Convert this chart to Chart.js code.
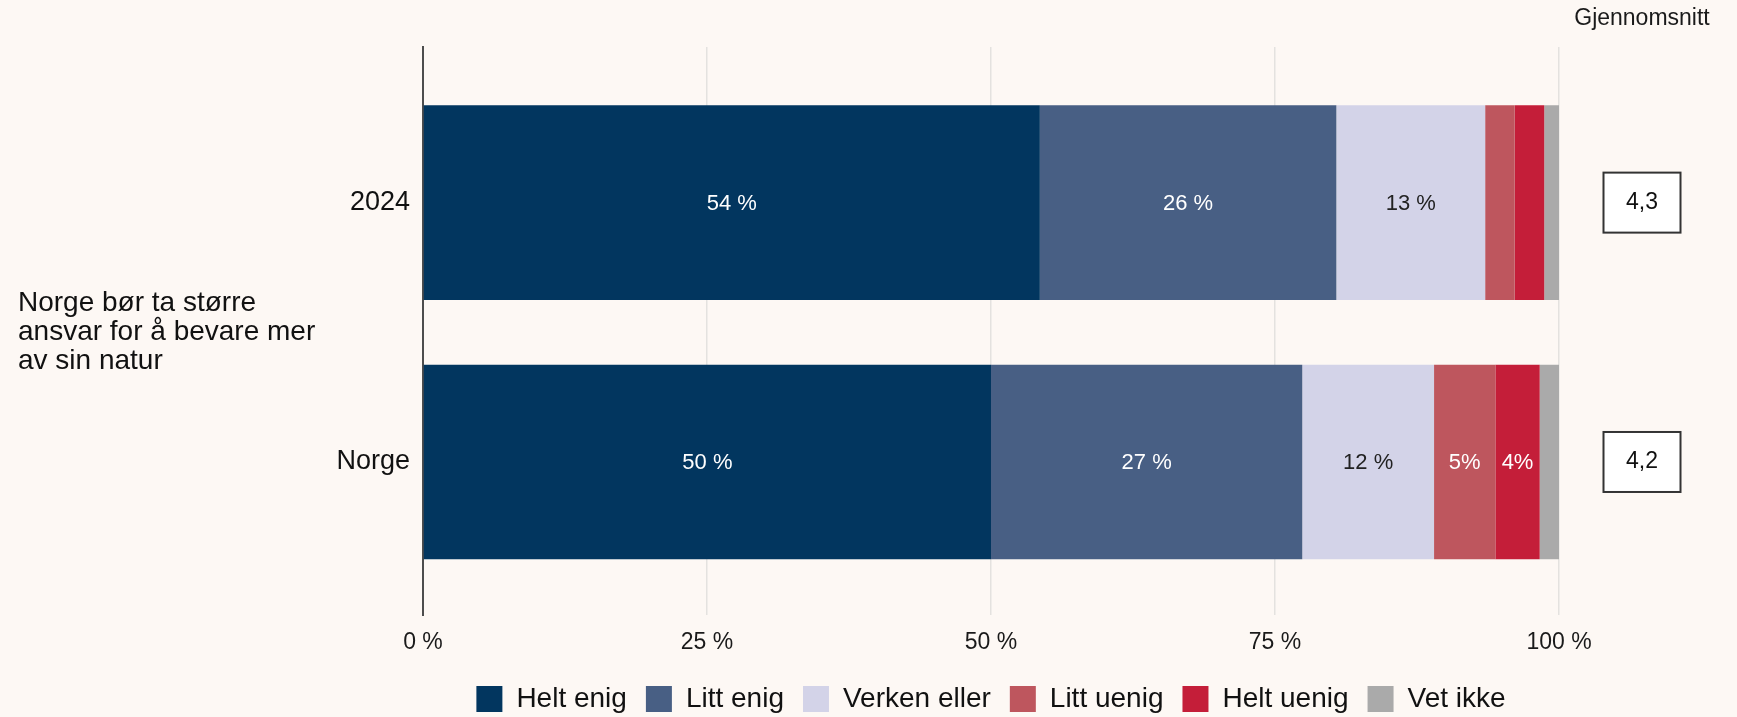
<!DOCTYPE html>
<html>
<head>
<meta charset="utf-8">
<script src="https://cdn.jsdelivr.net/npm/chart.js@4.4.1/dist/chart.umd.min.js"></script>
<style>
  html, body { margin: 0; padding: 0; background: #fdf8f4; }
  #wrap { width: 1737px; height: 717px; position: relative; }
</style>
</head>
<body>
<div id="wrap"><canvas id="c" width="1737" height="717"></canvas></div>
<script>
// ---- Data ----
const categories = ["2024", "Norge"];
const seriesNames = ["Helt enig", "Litt enig", "Verken eller", "Litt uenig", "Helt uenig", "Vet ikke"];
const heltEnig    = [54.3, 50.0];
const littEnig    = [26.1, 27.4];
const verkenEller = [13.1, 11.6];
const littUenig   = [2.6, 5.4];
const heltUenig   = [2.6, 3.9];
const vetIkke     = [1.3, 1.7];
const heltEnigLabels    = ["54 %", "50 %"];
const littEnigLabels    = ["26 %", "27 %"];
const verkenEllerLabels = ["13 %", "12 %"];
const littUenigLabels   = ["", "5%"];
const heltUenigLabels   = ["", "4%"];
const vetIkkeLabels     = ["", ""];
const averages = ["4,3", "4,2"];
const averageTitle = "Gjennomsnitt";
const questionLines = ["Norge bør ta større", "ansvar for å bevare mer", "av sin natur"];
const xTickValues = [0, 25, 50, 75, 100];

// ---- Styles ----
const FONT = '"Liberation Sans", Arial, Helvetica, sans-serif';
const colors = ["#02365f", "#485f84", "#d3d3e8", "#be565e", "#c41e39", "#aaaaaa"];
const labelColors = ["#ffffff", "#ffffff", "#222222", "#ffffff", "#ffffff", "#222222"];
const seriesValues = [heltEnig, littEnig, verkenEller, littUenig, heltUenig, vetIkke];
const seriesLabels = [heltEnigLabels, littEnigLabels, verkenEllerLabels, littUenigLabels, heltUenigLabels, vetIkkeLabels];

const datasets = seriesNames.map((name, s) => ({
  label: name,
  data: seriesValues[s].map((v, i) => ({ x: v, y: i })),
  backgroundColor: colors[s],
  borderWidth: 0,
  barPercentage: 0.75,
  categoryPercentage: 1.0,
  valueLabels: seriesLabels[s],
  valueLabelColor: labelColors[s]
}));

const extras = {
  id: 'extras',
  beforeDraw(chart) {
    const ctx = chart.ctx;
    ctx.save();
    ctx.fillStyle = '#fdf8f4';
    ctx.fillRect(0, 0, chart.width, chart.height);
    ctx.restore();
  },
  afterDatasetsDraw(chart) {
    const ctx = chart.ctx;
    ctx.save();
    ctx.font = '22px ' + FONT;
    ctx.textAlign = 'center';
    ctx.textBaseline = 'middle';
    chart.data.datasets.forEach((ds, di) => {
      const meta = chart.getDatasetMeta(di);
      meta.data.forEach((el, i) => {
        const txt = ds.valueLabels[i];
        if (!txt) return;
        ctx.fillStyle = ds.valueLabelColor;
        ctx.fillText(txt, (el.x + el.base) / 2, el.y + 1);
      });
    });
    ctx.restore();
  },
  afterDraw(chart) {
    const ctx = chart.ctx;
    const area = chart.chartArea;
    const yScale = chart.scales.y;
    ctx.save();
    // question text
    ctx.font = '28px ' + FONT;
    ctx.fillStyle = '#111111';
    ctx.textAlign = 'left';
    ctx.textBaseline = 'middle';
    const mid = (area.top + area.bottom) / 2 + 1.5;
    const pitch = 29;
    questionLines.forEach((line, k) => {
      ctx.fillText(line, 18, mid + (k - (questionLines.length - 1) / 2) * pitch);
    });
    // average column
    const cx = area.right + 83;
    ctx.font = '23px ' + FONT;
    ctx.textAlign = 'center';
    ctx.fillStyle = '#1a1a1a';
    ctx.fillText(averageTitle, cx, area.top - 28);
    averages.forEach((a, i) => {
      const cy = yScale.getPixelForValue(i);
      ctx.fillStyle = '#ffffff';
      ctx.fillRect(cx - 38.5, cy - 30, 77, 60);
      ctx.strokeStyle = '#333333';
      ctx.lineWidth = 2;
      ctx.strokeRect(cx - 38.5, cy - 30, 77, 60);
      ctx.fillStyle = '#111111';
      ctx.font = '23px ' + FONT;
      ctx.fillText(a, cx, cy);
    });
    ctx.restore();
  }
};

new Chart(document.getElementById('c'), {
  type: 'bar',
  data: { datasets },
  options: {
    responsive: false,
    animation: false,
    indexAxis: 'y',
    layout: { padding: { top: 47, right: 178, bottom: -6, left: 0 } },
    plugins: {
      legend: {
        position: 'bottom',
        fullSize: false,
        labels: {
          boxWidth: 26,
          boxHeight: 26,
          padding: 19,
          color: '#111111',
          font: { family: FONT, size: 28 }
        }
      },
      tooltip: { enabled: false }
    },
    scales: {
      x: {
        type: 'linear',
        stacked: true,
        min: 0,
        max: 100,
        afterBuildTicks: (scale) => { scale.ticks = xTickValues.map(v => ({ value: v })); },
        afterFit: (scale) => { scale.height = 51; },
        ticks: {
          padding: 14,
          color: '#1a1a1a',
          font: { family: FONT, size: 23 },
          callback: (v) => v + ' %'
        },
        grid: { color: '#e4e2df', lineWidth: 1.5, drawTicks: false },
        border: { display: false }
      },
      y: {
        type: 'linear',
        stacked: true,
        reverse: true,
        offset: false,
        min: -0.6,
        max: 1.59,
        afterBuildTicks: (scale) => { scale.ticks = categories.map((c, i) => ({ value: i })); },
        afterFit: (scale) => { scale.width = 423; },
        ticks: {
          autoSkip: false,
          padding: 13,
          color: '#111111',
          font: { family: FONT, size: 27 },
          callback: (v) => categories[v] !== undefined ? categories[v] : ''
        },
        grid: { display: false, offset: false, drawTicks: false },
        border: { display: true, color: '#4d4d4d', width: 2 }
      }
    }
  },
  plugins: [extras]
});
</script>
</body>
</html>
